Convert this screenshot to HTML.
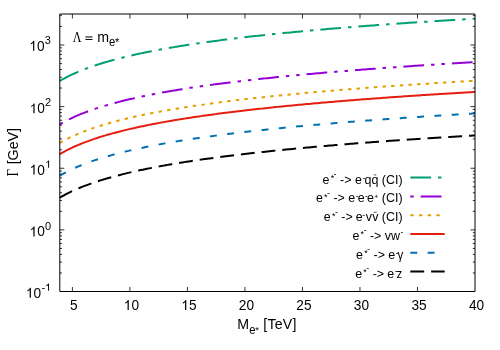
<!DOCTYPE html>
<html><head><meta charset="utf-8"><title>plot</title>
<style>html,body{margin:0;padding:0;background:#fff;}svg{display:block;will-change:transform;font-family:"Liberation Sans",sans-serif;}.s{font-family:"Liberation Serif",serif;}</style></head><body>
<svg width="500" height="350" viewBox="0 0 500 350">
<rect width="500" height="350" fill="#fff"/>
<path d="M72.40 291.5 V287.00 M72.40 14.0 V18.50 M129.91 291.5 V287.00 M129.91 14.0 V18.50 M187.43 291.5 V287.00 M187.43 14.0 V18.50 M244.94 291.5 V287.00 M244.94 14.0 V18.50 M302.46 291.5 V287.00 M302.46 14.0 V18.50 M359.97 291.5 V287.00 M359.97 14.0 V18.50 M417.49 291.5 V287.00 M417.49 14.0 V18.50 M59.8 272.95 H62.00 M475.0 272.95 H472.80 M59.8 262.10 H62.00 M475.0 262.10 H472.80 M59.8 254.40 H62.00 M475.0 254.40 H472.80 M59.8 248.43 H62.00 M475.0 248.43 H472.80 M59.8 243.55 H62.00 M475.0 243.55 H472.80 M59.8 239.42 H62.00 M475.0 239.42 H472.80 M59.8 235.85 H62.00 M475.0 235.85 H472.80 M59.8 232.69 H62.00 M475.0 232.69 H472.80 M59.8 229.88 H64.30 M475.0 229.88 H470.50 M59.8 211.32 H62.00 M475.0 211.32 H472.80 M59.8 200.47 H62.00 M475.0 200.47 H472.80 M59.8 192.77 H62.00 M475.0 192.77 H472.80 M59.8 186.80 H62.00 M475.0 186.80 H472.80 M59.8 181.92 H62.00 M475.0 181.92 H472.80 M59.8 177.80 H62.00 M475.0 177.80 H472.80 M59.8 174.22 H62.00 M475.0 174.22 H472.80 M59.8 171.07 H62.00 M475.0 171.07 H472.80 M59.8 168.25 H64.30 M475.0 168.25 H470.50 M59.8 149.70 H62.00 M475.0 149.70 H472.80 M59.8 138.85 H62.00 M475.0 138.85 H472.80 M59.8 131.15 H62.00 M475.0 131.15 H472.80 M59.8 125.18 H62.00 M475.0 125.18 H472.80 M59.8 120.30 H62.00 M475.0 120.30 H472.80 M59.8 116.17 H62.00 M475.0 116.17 H472.80 M59.8 112.60 H62.00 M475.0 112.60 H472.80 M59.8 109.44 H62.00 M475.0 109.44 H472.80 M59.8 106.62 H64.30 M475.0 106.62 H470.50 M59.8 88.07 H62.00 M475.0 88.07 H472.80 M59.8 77.22 H62.00 M475.0 77.22 H472.80 M59.8 69.52 H62.00 M475.0 69.52 H472.80 M59.8 63.55 H62.00 M475.0 63.55 H472.80 M59.8 58.67 H62.00 M475.0 58.67 H472.80 M59.8 54.55 H62.00 M475.0 54.55 H472.80 M59.8 50.97 H62.00 M475.0 50.97 H472.80 M59.8 47.82 H62.00 M475.0 47.82 H472.80 M59.8 45.00 H64.30 M475.0 45.00 H470.50 M59.8 26.45 H62.00 M475.0 26.45 H472.80 M59.8 15.60 H62.00 M475.0 15.60 H472.80" stroke="#000" stroke-width="0.8" fill="none"/>
<path d="M59.80 80.97 L61.88 79.76 L63.95 78.60 L66.03 77.50 L68.10 76.43 L70.18 75.41 L72.26 74.42 L74.33 73.47 L76.41 72.55 L78.48 71.66 L80.56 70.80 L82.64 69.97 L84.71 69.16 L86.79 68.38 L88.86 67.62 L90.94 66.87 L93.02 66.15 L95.09 65.45 L97.17 64.77 L99.24 64.10 L101.32 63.45 L103.40 62.82 L105.47 62.20 L107.55 61.59 L109.62 61.00 L111.70 60.42 L113.78 59.85 L115.85 59.29 L117.93 58.75 L120.00 58.21 L122.08 57.69 L124.16 57.18 L126.23 56.67 L128.31 56.18 L130.38 55.69 L132.46 55.22 L134.54 54.75 L136.61 54.29 L138.69 53.83 L140.76 53.39 L142.84 52.95 L144.92 52.52 L146.99 52.10 L149.07 51.68 L151.14 51.27 L153.22 50.86 L155.30 50.47 L157.37 50.07 L159.45 49.69 L161.52 49.30 L163.60 48.93 L165.68 48.56 L167.75 48.19 L169.83 47.83 L171.90 47.47 L173.98 47.12 L176.06 46.78 L178.13 46.43 L180.21 46.09 L182.28 45.76 L184.36 45.43 L186.44 45.10 L188.51 44.78 L190.59 44.46 L192.66 44.15 L194.74 43.84 L196.82 43.53 L198.89 43.23 L200.97 42.93 L203.04 42.63 L205.12 42.34 L207.20 42.05 L209.27 41.76 L211.35 41.48 L213.42 41.19 L215.50 40.92 L217.58 40.64 L219.65 40.37 L221.73 40.10 L223.80 39.83 L225.88 39.57 L227.96 39.30 L230.03 39.04 L232.11 38.79 L234.18 38.53 L236.26 38.28 L238.34 38.03 L240.41 37.78 L242.49 37.54 L244.56 37.30 L246.64 37.05 L248.72 36.82 L250.79 36.58 L252.87 36.34 L254.94 36.11 L257.02 35.88 L259.10 35.65 L261.17 35.43 L263.25 35.20 L265.32 34.98 L267.40 34.76 L269.48 34.54 L271.55 34.32 L273.63 34.11 L275.70 33.89 L277.78 33.68 L279.86 33.47 L281.93 33.26 L284.01 33.05 L286.08 32.85 L288.16 32.64 L290.24 32.44 L292.31 32.24 L294.39 32.04 L296.46 31.84 L298.54 31.65 L300.62 31.45 L302.69 31.26 L304.77 31.06 L306.84 30.87 L308.92 30.68 L311.00 30.50 L313.07 30.31 L315.15 30.12 L317.22 29.94 L319.30 29.76 L321.38 29.57 L323.45 29.39 L325.53 29.21 L327.60 29.04 L329.68 28.86 L331.76 28.68 L333.83 28.51 L335.91 28.33 L337.98 28.16 L340.06 27.99 L342.14 27.82 L344.21 27.65 L346.29 27.48 L348.36 27.32 L350.44 27.15 L352.52 26.98 L354.59 26.82 L356.67 26.66 L358.74 26.49 L360.82 26.33 L362.90 26.17 L364.97 26.01 L367.05 25.86 L369.12 25.70 L371.20 25.54 L373.28 25.39 L375.35 25.23 L377.43 25.08 L379.50 24.93 L381.58 24.77 L383.66 24.62 L385.73 24.47 L387.81 24.32 L389.88 24.17 L391.96 24.03 L394.04 23.88 L396.11 23.73 L398.19 23.59 L400.26 23.44 L402.34 23.30 L404.42 23.16 L406.49 23.01 L408.57 22.87 L410.64 22.73 L412.72 22.59 L414.80 22.45 L416.87 22.31 L418.95 22.18 L421.02 22.04 L423.10 21.90 L425.18 21.77 L427.25 21.63 L429.33 21.50 L431.40 21.36 L433.48 21.23 L435.56 21.10 L437.63 20.97 L439.71 20.84 L441.78 20.71 L443.86 20.58 L445.94 20.45 L448.01 20.32 L450.09 20.19 L452.16 20.06 L454.24 19.94 L456.32 19.81 L458.39 19.68 L460.47 19.56 L462.54 19.43 L464.62 19.31 L466.70 19.19 L468.77 19.06 L470.85 18.94 L472.92 18.82 L475.00 18.70" stroke="#009E73" stroke-width="2.0" fill="none" stroke-dasharray="20.81,6.94,3.47,6.94"/>
<path d="M59.80 124.37 L61.88 123.16 L63.95 122.00 L66.03 120.90 L68.10 119.83 L70.18 118.81 L72.26 117.82 L74.33 116.87 L76.41 115.95 L78.48 115.06 L80.56 114.20 L82.64 113.37 L84.71 112.56 L86.79 111.78 L88.86 111.02 L90.94 110.27 L93.02 109.55 L95.09 108.85 L97.17 108.17 L99.24 107.50 L101.32 106.85 L103.40 106.22 L105.47 105.60 L107.55 104.99 L109.62 104.40 L111.70 103.82 L113.78 103.25 L115.85 102.69 L117.93 102.15 L120.00 101.61 L122.08 101.09 L124.16 100.58 L126.23 100.07 L128.31 99.58 L130.38 99.09 L132.46 98.62 L134.54 98.15 L136.61 97.69 L138.69 97.23 L140.76 96.79 L142.84 96.35 L144.92 95.92 L146.99 95.50 L149.07 95.08 L151.14 94.67 L153.22 94.26 L155.30 93.87 L157.37 93.47 L159.45 93.09 L161.52 92.70 L163.60 92.33 L165.68 91.96 L167.75 91.59 L169.83 91.23 L171.90 90.87 L173.98 90.52 L176.06 90.18 L178.13 89.83 L180.21 89.49 L182.28 89.16 L184.36 88.83 L186.44 88.50 L188.51 88.18 L190.59 87.86 L192.66 87.55 L194.74 87.24 L196.82 86.93 L198.89 86.63 L200.97 86.33 L203.04 86.03 L205.12 85.74 L207.20 85.45 L209.27 85.16 L211.35 84.88 L213.42 84.59 L215.50 84.32 L217.58 84.04 L219.65 83.77 L221.73 83.50 L223.80 83.23 L225.88 82.97 L227.96 82.70 L230.03 82.44 L232.11 82.19 L234.18 81.93 L236.26 81.68 L238.34 81.43 L240.41 81.18 L242.49 80.94 L244.56 80.70 L246.64 80.45 L248.72 80.22 L250.79 79.98 L252.87 79.74 L254.94 79.51 L257.02 79.28 L259.10 79.05 L261.17 78.83 L263.25 78.60 L265.32 78.38 L267.40 78.16 L269.48 77.94 L271.55 77.72 L273.63 77.51 L275.70 77.29 L277.78 77.08 L279.86 76.87 L281.93 76.66 L284.01 76.45 L286.08 76.25 L288.16 76.04 L290.24 75.84 L292.31 75.64 L294.39 75.44 L296.46 75.24 L298.54 75.05 L300.62 74.85 L302.69 74.66 L304.77 74.46 L306.84 74.27 L308.92 74.08 L311.00 73.90 L313.07 73.71 L315.15 73.52 L317.22 73.34 L319.30 73.16 L321.38 72.97 L323.45 72.79 L325.53 72.61 L327.60 72.44 L329.68 72.26 L331.76 72.08 L333.83 71.91 L335.91 71.73 L337.98 71.56 L340.06 71.39 L342.14 71.22 L344.21 71.05 L346.29 70.88 L348.36 70.72 L350.44 70.55 L352.52 70.38 L354.59 70.22 L356.67 70.06 L358.74 69.89 L360.82 69.73 L362.90 69.57 L364.97 69.41 L367.05 69.26 L369.12 69.10 L371.20 68.94 L373.28 68.79 L375.35 68.63 L377.43 68.48 L379.50 68.33 L381.58 68.17 L383.66 68.02 L385.73 67.87 L387.81 67.72 L389.88 67.57 L391.96 67.43 L394.04 67.28 L396.11 67.13 L398.19 66.99 L400.26 66.84 L402.34 66.70 L404.42 66.56 L406.49 66.41 L408.57 66.27 L410.64 66.13 L412.72 65.99 L414.80 65.85 L416.87 65.71 L418.95 65.58 L421.02 65.44 L423.10 65.30 L425.18 65.17 L427.25 65.03 L429.33 64.90 L431.40 64.76 L433.48 64.63 L435.56 64.50 L437.63 64.37 L439.71 64.24 L441.78 64.11 L443.86 63.98 L445.94 63.85 L448.01 63.72 L450.09 63.59 L452.16 63.46 L454.24 63.34 L456.32 63.21 L458.39 63.08 L460.47 62.96 L462.54 62.83 L464.62 62.71 L466.70 62.59 L468.77 62.46 L470.85 62.34 L472.92 62.22 L475.00 62.10" stroke="#9400D3" stroke-width="2.0" fill="none" stroke-dasharray="3.47,6.94,20.81,6.94,3.47,6.94"/>
<path d="M59.80 142.97 L61.88 141.76 L63.95 140.60 L66.03 139.50 L68.10 138.43 L70.18 137.41 L72.26 136.42 L74.33 135.47 L76.41 134.55 L78.48 133.66 L80.56 132.80 L82.64 131.97 L84.71 131.16 L86.79 130.38 L88.86 129.62 L90.94 128.87 L93.02 128.15 L95.09 127.45 L97.17 126.77 L99.24 126.10 L101.32 125.45 L103.40 124.82 L105.47 124.20 L107.55 123.59 L109.62 123.00 L111.70 122.42 L113.78 121.85 L115.85 121.29 L117.93 120.75 L120.00 120.21 L122.08 119.69 L124.16 119.18 L126.23 118.67 L128.31 118.18 L130.38 117.69 L132.46 117.22 L134.54 116.75 L136.61 116.29 L138.69 115.83 L140.76 115.39 L142.84 114.95 L144.92 114.52 L146.99 114.10 L149.07 113.68 L151.14 113.27 L153.22 112.86 L155.30 112.47 L157.37 112.07 L159.45 111.69 L161.52 111.30 L163.60 110.93 L165.68 110.56 L167.75 110.19 L169.83 109.83 L171.90 109.47 L173.98 109.12 L176.06 108.78 L178.13 108.43 L180.21 108.09 L182.28 107.76 L184.36 107.43 L186.44 107.10 L188.51 106.78 L190.59 106.46 L192.66 106.15 L194.74 105.84 L196.82 105.53 L198.89 105.23 L200.97 104.93 L203.04 104.63 L205.12 104.34 L207.20 104.05 L209.27 103.76 L211.35 103.48 L213.42 103.19 L215.50 102.92 L217.58 102.64 L219.65 102.37 L221.73 102.10 L223.80 101.83 L225.88 101.57 L227.96 101.30 L230.03 101.04 L232.11 100.79 L234.18 100.53 L236.26 100.28 L238.34 100.03 L240.41 99.78 L242.49 99.54 L244.56 99.30 L246.64 99.05 L248.72 98.82 L250.79 98.58 L252.87 98.34 L254.94 98.11 L257.02 97.88 L259.10 97.65 L261.17 97.43 L263.25 97.20 L265.32 96.98 L267.40 96.76 L269.48 96.54 L271.55 96.32 L273.63 96.11 L275.70 95.89 L277.78 95.68 L279.86 95.47 L281.93 95.26 L284.01 95.05 L286.08 94.85 L288.16 94.64 L290.24 94.44 L292.31 94.24 L294.39 94.04 L296.46 93.84 L298.54 93.65 L300.62 93.45 L302.69 93.26 L304.77 93.06 L306.84 92.87 L308.92 92.68 L311.00 92.50 L313.07 92.31 L315.15 92.12 L317.22 91.94 L319.30 91.76 L321.38 91.57 L323.45 91.39 L325.53 91.21 L327.60 91.04 L329.68 90.86 L331.76 90.68 L333.83 90.51 L335.91 90.33 L337.98 90.16 L340.06 89.99 L342.14 89.82 L344.21 89.65 L346.29 89.48 L348.36 89.32 L350.44 89.15 L352.52 88.98 L354.59 88.82 L356.67 88.66 L358.74 88.49 L360.82 88.33 L362.90 88.17 L364.97 88.01 L367.05 87.86 L369.12 87.70 L371.20 87.54 L373.28 87.39 L375.35 87.23 L377.43 87.08 L379.50 86.93 L381.58 86.77 L383.66 86.62 L385.73 86.47 L387.81 86.32 L389.88 86.17 L391.96 86.03 L394.04 85.88 L396.11 85.73 L398.19 85.59 L400.26 85.44 L402.34 85.30 L404.42 85.16 L406.49 85.01 L408.57 84.87 L410.64 84.73 L412.72 84.59 L414.80 84.45 L416.87 84.31 L418.95 84.18 L421.02 84.04 L423.10 83.90 L425.18 83.77 L427.25 83.63 L429.33 83.50 L431.40 83.36 L433.48 83.23 L435.56 83.10 L437.63 82.97 L439.71 82.84 L441.78 82.71 L443.86 82.58 L445.94 82.45 L448.01 82.32 L450.09 82.19 L452.16 82.06 L454.24 81.94 L456.32 81.81 L458.39 81.68 L460.47 81.56 L462.54 81.43 L464.62 81.31 L466.70 81.19 L468.77 81.06 L470.85 80.94 L472.92 80.82 L475.00 80.70" stroke="#E69F00" stroke-width="2.0" fill="none" stroke-dasharray="3.47,5.20"/>
<path d="M59.80 154.17 L61.88 152.96 L63.95 151.80 L66.03 150.70 L68.10 149.63 L70.18 148.61 L72.26 147.62 L74.33 146.67 L76.41 145.75 L78.48 144.86 L80.56 144.00 L82.64 143.17 L84.71 142.36 L86.79 141.58 L88.86 140.82 L90.94 140.07 L93.02 139.35 L95.09 138.65 L97.17 137.97 L99.24 137.30 L101.32 136.65 L103.40 136.02 L105.47 135.40 L107.55 134.79 L109.62 134.20 L111.70 133.62 L113.78 133.05 L115.85 132.49 L117.93 131.95 L120.00 131.41 L122.08 130.89 L124.16 130.38 L126.23 129.87 L128.31 129.38 L130.38 128.89 L132.46 128.42 L134.54 127.95 L136.61 127.49 L138.69 127.03 L140.76 126.59 L142.84 126.15 L144.92 125.72 L146.99 125.30 L149.07 124.88 L151.14 124.47 L153.22 124.06 L155.30 123.67 L157.37 123.27 L159.45 122.89 L161.52 122.50 L163.60 122.13 L165.68 121.76 L167.75 121.39 L169.83 121.03 L171.90 120.67 L173.98 120.32 L176.06 119.98 L178.13 119.63 L180.21 119.29 L182.28 118.96 L184.36 118.63 L186.44 118.30 L188.51 117.98 L190.59 117.66 L192.66 117.35 L194.74 117.04 L196.82 116.73 L198.89 116.43 L200.97 116.13 L203.04 115.83 L205.12 115.54 L207.20 115.25 L209.27 114.96 L211.35 114.68 L213.42 114.39 L215.50 114.12 L217.58 113.84 L219.65 113.57 L221.73 113.30 L223.80 113.03 L225.88 112.77 L227.96 112.50 L230.03 112.24 L232.11 111.99 L234.18 111.73 L236.26 111.48 L238.34 111.23 L240.41 110.98 L242.49 110.74 L244.56 110.50 L246.64 110.25 L248.72 110.02 L250.79 109.78 L252.87 109.54 L254.94 109.31 L257.02 109.08 L259.10 108.85 L261.17 108.63 L263.25 108.40 L265.32 108.18 L267.40 107.96 L269.48 107.74 L271.55 107.52 L273.63 107.31 L275.70 107.09 L277.78 106.88 L279.86 106.67 L281.93 106.46 L284.01 106.25 L286.08 106.05 L288.16 105.84 L290.24 105.64 L292.31 105.44 L294.39 105.24 L296.46 105.04 L298.54 104.85 L300.62 104.65 L302.69 104.46 L304.77 104.26 L306.84 104.07 L308.92 103.88 L311.00 103.70 L313.07 103.51 L315.15 103.32 L317.22 103.14 L319.30 102.96 L321.38 102.77 L323.45 102.59 L325.53 102.41 L327.60 102.24 L329.68 102.06 L331.76 101.88 L333.83 101.71 L335.91 101.53 L337.98 101.36 L340.06 101.19 L342.14 101.02 L344.21 100.85 L346.29 100.68 L348.36 100.52 L350.44 100.35 L352.52 100.18 L354.59 100.02 L356.67 99.86 L358.74 99.69 L360.82 99.53 L362.90 99.37 L364.97 99.21 L367.05 99.06 L369.12 98.90 L371.20 98.74 L373.28 98.59 L375.35 98.43 L377.43 98.28 L379.50 98.13 L381.58 97.97 L383.66 97.82 L385.73 97.67 L387.81 97.52 L389.88 97.37 L391.96 97.23 L394.04 97.08 L396.11 96.93 L398.19 96.79 L400.26 96.64 L402.34 96.50 L404.42 96.36 L406.49 96.21 L408.57 96.07 L410.64 95.93 L412.72 95.79 L414.80 95.65 L416.87 95.51 L418.95 95.38 L421.02 95.24 L423.10 95.10 L425.18 94.97 L427.25 94.83 L429.33 94.70 L431.40 94.56 L433.48 94.43 L435.56 94.30 L437.63 94.17 L439.71 94.04 L441.78 93.91 L443.86 93.78 L445.94 93.65 L448.01 93.52 L450.09 93.39 L452.16 93.26 L454.24 93.14 L456.32 93.01 L458.39 92.88 L460.47 92.76 L462.54 92.63 L464.62 92.51 L466.70 92.39 L468.77 92.26 L470.85 92.14 L472.92 92.02 L475.00 91.90" stroke="#E51E10" stroke-width="2.0" fill="none"/>
<path d="M59.80 175.67 L61.88 174.46 L63.95 173.30 L66.03 172.20 L68.10 171.13 L70.18 170.11 L72.26 169.12 L74.33 168.17 L76.41 167.25 L78.48 166.36 L80.56 165.50 L82.64 164.67 L84.71 163.86 L86.79 163.08 L88.86 162.32 L90.94 161.57 L93.02 160.85 L95.09 160.15 L97.17 159.47 L99.24 158.80 L101.32 158.15 L103.40 157.52 L105.47 156.90 L107.55 156.29 L109.62 155.70 L111.70 155.12 L113.78 154.55 L115.85 153.99 L117.93 153.45 L120.00 152.91 L122.08 152.39 L124.16 151.88 L126.23 151.37 L128.31 150.88 L130.38 150.39 L132.46 149.92 L134.54 149.45 L136.61 148.99 L138.69 148.53 L140.76 148.09 L142.84 147.65 L144.92 147.22 L146.99 146.80 L149.07 146.38 L151.14 145.97 L153.22 145.56 L155.30 145.17 L157.37 144.77 L159.45 144.39 L161.52 144.00 L163.60 143.63 L165.68 143.26 L167.75 142.89 L169.83 142.53 L171.90 142.17 L173.98 141.82 L176.06 141.48 L178.13 141.13 L180.21 140.79 L182.28 140.46 L184.36 140.13 L186.44 139.80 L188.51 139.48 L190.59 139.16 L192.66 138.85 L194.74 138.54 L196.82 138.23 L198.89 137.93 L200.97 137.63 L203.04 137.33 L205.12 137.04 L207.20 136.75 L209.27 136.46 L211.35 136.18 L213.42 135.89 L215.50 135.62 L217.58 135.34 L219.65 135.07 L221.73 134.80 L223.80 134.53 L225.88 134.27 L227.96 134.00 L230.03 133.74 L232.11 133.49 L234.18 133.23 L236.26 132.98 L238.34 132.73 L240.41 132.48 L242.49 132.24 L244.56 132.00 L246.64 131.75 L248.72 131.52 L250.79 131.28 L252.87 131.04 L254.94 130.81 L257.02 130.58 L259.10 130.35 L261.17 130.13 L263.25 129.90 L265.32 129.68 L267.40 129.46 L269.48 129.24 L271.55 129.02 L273.63 128.81 L275.70 128.59 L277.78 128.38 L279.86 128.17 L281.93 127.96 L284.01 127.75 L286.08 127.55 L288.16 127.34 L290.24 127.14 L292.31 126.94 L294.39 126.74 L296.46 126.54 L298.54 126.35 L300.62 126.15 L302.69 125.96 L304.77 125.76 L306.84 125.57 L308.92 125.38 L311.00 125.20 L313.07 125.01 L315.15 124.82 L317.22 124.64 L319.30 124.46 L321.38 124.27 L323.45 124.09 L325.53 123.91 L327.60 123.74 L329.68 123.56 L331.76 123.38 L333.83 123.21 L335.91 123.03 L337.98 122.86 L340.06 122.69 L342.14 122.52 L344.21 122.35 L346.29 122.18 L348.36 122.02 L350.44 121.85 L352.52 121.68 L354.59 121.52 L356.67 121.36 L358.74 121.19 L360.82 121.03 L362.90 120.87 L364.97 120.71 L367.05 120.56 L369.12 120.40 L371.20 120.24 L373.28 120.09 L375.35 119.93 L377.43 119.78 L379.50 119.63 L381.58 119.47 L383.66 119.32 L385.73 119.17 L387.81 119.02 L389.88 118.87 L391.96 118.73 L394.04 118.58 L396.11 118.43 L398.19 118.29 L400.26 118.14 L402.34 118.00 L404.42 117.86 L406.49 117.71 L408.57 117.57 L410.64 117.43 L412.72 117.29 L414.80 117.15 L416.87 117.01 L418.95 116.88 L421.02 116.74 L423.10 116.60 L425.18 116.47 L427.25 116.33 L429.33 116.20 L431.40 116.06 L433.48 115.93 L435.56 115.80 L437.63 115.67 L439.71 115.54 L441.78 115.41 L443.86 115.28 L445.94 115.15 L448.01 115.02 L450.09 114.89 L452.16 114.76 L454.24 114.64 L456.32 114.51 L458.39 114.38 L460.47 114.26 L462.54 114.13 L464.62 114.01 L466.70 113.89 L468.77 113.76 L470.85 113.64 L472.92 113.52 L475.00 113.40" stroke="#0072B2" stroke-width="2.0" fill="none" stroke-dasharray="6.94,10.40"/>
<path d="M59.80 197.67 L61.88 196.46 L63.95 195.30 L66.03 194.20 L68.10 193.13 L70.18 192.11 L72.26 191.12 L74.33 190.17 L76.41 189.25 L78.48 188.36 L80.56 187.50 L82.64 186.67 L84.71 185.86 L86.79 185.08 L88.86 184.32 L90.94 183.57 L93.02 182.85 L95.09 182.15 L97.17 181.47 L99.24 180.80 L101.32 180.15 L103.40 179.52 L105.47 178.90 L107.55 178.29 L109.62 177.70 L111.70 177.12 L113.78 176.55 L115.85 175.99 L117.93 175.45 L120.00 174.91 L122.08 174.39 L124.16 173.88 L126.23 173.37 L128.31 172.88 L130.38 172.39 L132.46 171.92 L134.54 171.45 L136.61 170.99 L138.69 170.53 L140.76 170.09 L142.84 169.65 L144.92 169.22 L146.99 168.80 L149.07 168.38 L151.14 167.97 L153.22 167.56 L155.30 167.17 L157.37 166.77 L159.45 166.39 L161.52 166.00 L163.60 165.63 L165.68 165.26 L167.75 164.89 L169.83 164.53 L171.90 164.17 L173.98 163.82 L176.06 163.48 L178.13 163.13 L180.21 162.79 L182.28 162.46 L184.36 162.13 L186.44 161.80 L188.51 161.48 L190.59 161.16 L192.66 160.85 L194.74 160.54 L196.82 160.23 L198.89 159.93 L200.97 159.63 L203.04 159.33 L205.12 159.04 L207.20 158.75 L209.27 158.46 L211.35 158.18 L213.42 157.89 L215.50 157.62 L217.58 157.34 L219.65 157.07 L221.73 156.80 L223.80 156.53 L225.88 156.27 L227.96 156.00 L230.03 155.74 L232.11 155.49 L234.18 155.23 L236.26 154.98 L238.34 154.73 L240.41 154.48 L242.49 154.24 L244.56 154.00 L246.64 153.75 L248.72 153.52 L250.79 153.28 L252.87 153.04 L254.94 152.81 L257.02 152.58 L259.10 152.35 L261.17 152.13 L263.25 151.90 L265.32 151.68 L267.40 151.46 L269.48 151.24 L271.55 151.02 L273.63 150.81 L275.70 150.59 L277.78 150.38 L279.86 150.17 L281.93 149.96 L284.01 149.75 L286.08 149.55 L288.16 149.34 L290.24 149.14 L292.31 148.94 L294.39 148.74 L296.46 148.54 L298.54 148.35 L300.62 148.15 L302.69 147.96 L304.77 147.76 L306.84 147.57 L308.92 147.38 L311.00 147.20 L313.07 147.01 L315.15 146.82 L317.22 146.64 L319.30 146.46 L321.38 146.27 L323.45 146.09 L325.53 145.91 L327.60 145.74 L329.68 145.56 L331.76 145.38 L333.83 145.21 L335.91 145.03 L337.98 144.86 L340.06 144.69 L342.14 144.52 L344.21 144.35 L346.29 144.18 L348.36 144.02 L350.44 143.85 L352.52 143.68 L354.59 143.52 L356.67 143.36 L358.74 143.19 L360.82 143.03 L362.90 142.87 L364.97 142.71 L367.05 142.56 L369.12 142.40 L371.20 142.24 L373.28 142.09 L375.35 141.93 L377.43 141.78 L379.50 141.63 L381.58 141.47 L383.66 141.32 L385.73 141.17 L387.81 141.02 L389.88 140.87 L391.96 140.73 L394.04 140.58 L396.11 140.43 L398.19 140.29 L400.26 140.14 L402.34 140.00 L404.42 139.86 L406.49 139.71 L408.57 139.57 L410.64 139.43 L412.72 139.29 L414.80 139.15 L416.87 139.01 L418.95 138.88 L421.02 138.74 L423.10 138.60 L425.18 138.47 L427.25 138.33 L429.33 138.20 L431.40 138.06 L433.48 137.93 L435.56 137.80 L437.63 137.67 L439.71 137.54 L441.78 137.41 L443.86 137.28 L445.94 137.15 L448.01 137.02 L450.09 136.89 L452.16 136.76 L454.24 136.64 L456.32 136.51 L458.39 136.38 L460.47 136.26 L462.54 136.13 L464.62 136.01 L466.70 135.89 L468.77 135.76 L470.85 135.64 L472.92 135.52 L475.00 135.40" stroke="#000000" stroke-width="2.0" fill="none" stroke-dasharray="13.87,6.94"/>
<path d="M59.8 14.0 H475.0 V291.5 H59.8 Z" stroke="#000" stroke-width="1" fill="none"/>
<path d="M410.3 177.60 H444.7" stroke="#009E73" stroke-width="2.0" fill="none" stroke-dasharray="20.81,6.94,3.47,6.94"/>
<path d="M410.3 196.38 H444.7" stroke="#9400D3" stroke-width="2.0" fill="none" stroke-dasharray="3.47,6.94,20.81,6.94,3.47,6.94"/>
<path d="M410.3 215.16 H444.7" stroke="#E69F00" stroke-width="2.0" fill="none" stroke-dasharray="3.47,5.20"/>
<path d="M410.3 233.94 H444.7" stroke="#E51E10" stroke-width="2.0" fill="none"/>
<path d="M410.3 252.72 H444.7" stroke="#0072B2" stroke-width="2.0" fill="none" stroke-dasharray="6.94,10.40"/>
<path d="M410.3 271.50 H444.7" stroke="#000000" stroke-width="2.0" fill="none" stroke-dasharray="13.87,6.94"/>
<text transform="translate(73.90,310.00) scale(1,1.1)" font-size="13.7" text-anchor="middle">5</text>
<path transform="translate(123.80,310.00) scale(13.7,-13.864)" d="M0.363 0 L0.275 0 L0.275 0.558 Q0.205 0.492 0.109 0.452 L0.109 0.537 Q0.245 0.602 0.306 0.716 L0.363 0.716 Z" fill="#000"/>
<text transform="translate(131.41,310.00) scale(1,1.1)" font-size="13.7">0</text>
<path transform="translate(181.31,310.00) scale(13.7,-13.864)" d="M0.363 0 L0.275 0 L0.275 0.558 Q0.205 0.492 0.109 0.452 L0.109 0.537 Q0.245 0.602 0.306 0.716 L0.363 0.716 Z" fill="#000"/>
<text transform="translate(188.93,310.00) scale(1,1.1)" font-size="13.7">5</text>
<text transform="translate(246.44,310.00) scale(1,1.1)" font-size="13.7" text-anchor="middle">20</text>
<text transform="translate(303.96,310.00) scale(1,1.1)" font-size="13.7" text-anchor="middle">25</text>
<text transform="translate(361.47,310.00) scale(1,1.1)" font-size="13.7" text-anchor="middle">30</text>
<text transform="translate(418.99,310.00) scale(1,1.1)" font-size="13.7" text-anchor="middle">35</text>
<text transform="translate(476.50,310.00) scale(1,1.1)" font-size="13.7" text-anchor="middle">40</text>
<path transform="translate(25.92,297.70) scale(13.7,-13.864)" d="M0.363 0 L0.275 0 L0.275 0.558 Q0.205 0.492 0.109 0.452 L0.109 0.537 Q0.245 0.602 0.306 0.716 L0.363 0.716 Z" fill="#000"/>
<text transform="translate(41.15,297.70) scale(1,1.1)" font-size="13.7" text-anchor="end">0</text>
<text transform="translate(41.40,290.80)" font-size="11">-</text>
<path transform="translate(45.06,290.80) scale(11,-10.120)" d="M0.363 0 L0.275 0 L0.275 0.558 Q0.205 0.492 0.109 0.452 L0.109 0.537 Q0.245 0.602 0.306 0.716 L0.363 0.716 Z" fill="#000"/>
<path transform="translate(29.62,236.47) scale(13.7,-13.864)" d="M0.363 0 L0.275 0 L0.275 0.558 Q0.205 0.492 0.109 0.452 L0.109 0.537 Q0.245 0.602 0.306 0.716 L0.363 0.716 Z" fill="#000"/>
<text transform="translate(44.85,236.47) scale(1,1.1)" font-size="13.7" text-anchor="end">0</text>
<text transform="translate(45.10,229.57)" font-size="11">0</text>
<path transform="translate(29.62,174.55) scale(13.7,-13.864)" d="M0.363 0 L0.275 0 L0.275 0.558 Q0.205 0.492 0.109 0.452 L0.109 0.537 Q0.245 0.602 0.306 0.716 L0.363 0.716 Z" fill="#000"/>
<text transform="translate(44.85,174.55) scale(1,1.1)" font-size="13.7" text-anchor="end">0</text>
<path transform="translate(45.10,167.65) scale(11,-10.120)" d="M0.363 0 L0.275 0 L0.275 0.558 Q0.205 0.492 0.109 0.452 L0.109 0.537 Q0.245 0.602 0.306 0.716 L0.363 0.716 Z" fill="#000"/>
<path transform="translate(29.62,113.33) scale(13.7,-13.864)" d="M0.363 0 L0.275 0 L0.275 0.558 Q0.205 0.492 0.109 0.452 L0.109 0.537 Q0.245 0.602 0.306 0.716 L0.363 0.716 Z" fill="#000"/>
<text transform="translate(44.85,113.33) scale(1,1.1)" font-size="13.7" text-anchor="end">0</text>
<text transform="translate(45.10,106.42)" font-size="11">2</text>
<path transform="translate(29.32,50.70) scale(13.7,-13.864)" d="M0.363 0 L0.275 0 L0.275 0.558 Q0.205 0.492 0.109 0.452 L0.109 0.537 Q0.245 0.602 0.306 0.716 L0.363 0.716 Z" fill="#000"/>
<text transform="translate(44.55,50.70) scale(1,1.1)" font-size="13.7" text-anchor="end">0</text>
<text transform="translate(44.80,43.80)" font-size="11">3</text>
<text transform="translate(237.30,329.20) scale(1,1.05)" font-size="14.2"><tspan x="0">M</tspan><tspan x="11.9" y="4.67" font-size="11.3">e</tspan><tspan x="18.0" y="3.33" font-size="9.5">*</tspan><tspan x="25.9" y="0" letter-spacing="0.25">[TeV]</tspan></text>
<text transform="translate(18.00,164.35) rotate(-90) scale(1,1.05)" font-size="14.2">[GeV]</text>
<text class="s" transform="translate(18.0,176.5) rotate(-90) scale(0.84,1.05)" font-size="15.5">Γ</text>
<text transform="translate(72.60,41.60) scale(1,1.05)" font-size="14.2"><tspan x="24.7">m</tspan><tspan x="36.3" y="4.00" font-size="11.3">e</tspan><tspan x="42.3" y="4.19" font-size="11">*</tspan></text>
<text class="s" transform="translate(72.7,41.6) scale(0.87,1.06)" font-size="13.9">Λ</text>
<path d="M85.4 36.95 H92.5 M85.4 39.45 H92.5" stroke="#000" stroke-width="1" fill="none"/>
<text transform="translate(402.60,183.70) scale(1,1.04)" font-size="12.45" text-anchor="end">e<tspan font-size="9" dy="-2.6" dx="1.2">*</tspan><tspan font-size="9" dy="-3.9" dx="-0.6">-</tspan><tspan dy="6.5"> -&gt;</tspan><tspan dx="0.0"> </tspan>e<tspan font-size="8.5" dy="-3.0" dx="0.6">-</tspan><tspan dy="3.0" dx="-0.7">qq (CI)</tspan></text>
<text transform="translate(402.60,202.48) scale(1,1.04)" font-size="12.45" text-anchor="end">e<tspan font-size="9" dy="-2.6" dx="1.2">*</tspan><tspan font-size="9" dy="-3.9" dx="-0.6">-</tspan><tspan dy="6.5"> -&gt;</tspan><tspan dx="0.0"> </tspan>e<tspan font-size="8.5" dy="-3.0" dx="0.4">-</tspan><tspan dy="3.0" dx="-0.75">e</tspan><tspan font-size="8.5" dy="-3.0" dx="0.4">-</tspan><tspan dy="3.0" dx="-0.75">e</tspan><tspan font-size="7.5" dy="-3.4" dx="0.0">+</tspan><tspan dy="3.4" dx="0.0"> (CI)</tspan></text>
<text transform="translate(402.60,221.26) scale(1,1.04)" font-size="12.45" text-anchor="end">e<tspan font-size="9" dy="-2.6" dx="1.2">*</tspan><tspan font-size="9" dy="-3.9" dx="-0.6">-</tspan><tspan dy="6.5"> -&gt;</tspan><tspan dx="-0.6"> </tspan>e<tspan font-size="8.5" dy="-3.0" dx="-0.2">-</tspan><tspan dy="3.0" dx="0.5">v<tspan dx="0.3">v</tspan> (CI)</tspan></text>
<text transform="translate(403.40,240.04) scale(1,1.04)" font-size="12.45" text-anchor="end">e<tspan font-size="9" dy="-2.6" dx="1.2">*</tspan><tspan font-size="9" dy="-3.9" dx="-0.6">-</tspan><tspan dy="6.5"> -&gt;</tspan><tspan dx="0.0"> </tspan>vw<tspan font-size="8.5" dy="-4.9" dx="0.6">-</tspan></text>
<text transform="translate(403.40,258.82) scale(1,1.04)" font-size="12.45" text-anchor="end">e<tspan font-size="9" dy="-2.6" dx="1.2">*</tspan><tspan font-size="9" dy="-3.9" dx="-0.6">-</tspan><tspan dy="6.5"> -&gt;</tspan><tspan dx="-0.2"> </tspan>e<tspan font-size="8.5" dy="-3.0" dx="0.6">-</tspan><tspan dy="3.0" dx="-1.0" font-size="11.6">γ</tspan></text>
<text transform="translate(402.30,277.60) scale(1,1.04)" font-size="12.45" text-anchor="end">e<tspan font-size="9" dy="-2.6" dx="1.2">*</tspan><tspan font-size="9" dy="-3.9" dx="-0.6">-</tspan><tspan dy="6.5"> -&gt;</tspan><tspan dx="-0.4"> </tspan>e<tspan font-size="8.5" dy="-3.0" dx="0.6">-</tspan><tspan dy="3.0" dx="-0.9" font-size="11.4">z</tspan></text>
<path d="M373.8 174.9 H376.3 M373.8 212.3 H376.6" stroke="#444" stroke-width="0.9" fill="none"/>
</svg></body></html>
